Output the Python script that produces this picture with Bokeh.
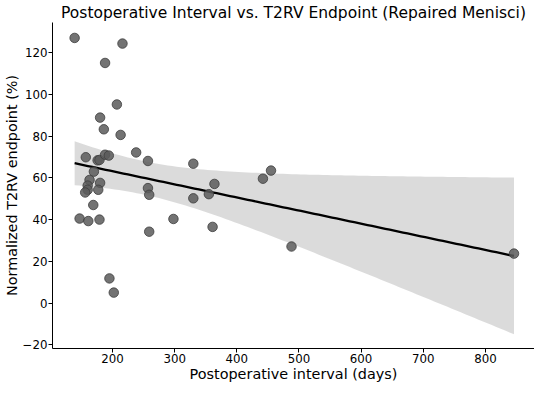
import numpy as np
from bokeh.plotting import figure
from bokeh.models import Range1d, FixedTicker, ColumnDataSource
from bokeh.embed import file_html
from bokeh.resources import INLINE

# Data
days = [139, 216, 188, 207, 180, 186, 213, 238, 257, 330,
        157, 176, 179, 188, 194, 170, 163, 180, 160, 160,
        156, 177, 169, 147, 161, 179, 195, 202, 257, 259,
        259, 298, 330, 355, 364, 361, 455, 442, 488, 846]
t2rv = [127.1, 124.4, 115.1, 95.2, 88.9, 83.3, 80.6, 72.2, 68.1, 66.8,
        69.9, 68.4, 68.6, 71.1, 70.7, 63.0, 59.0, 57.6, 56.3, 54.3,
        53.0, 54.3, 47.0, 40.5, 39.3, 40.0, 11.8, 5.0, 55.1, 51.9,
        34.2, 40.3, 50.2, 52.2, 57.1, 36.5, 63.5, 59.6, 27.1, 23.7]
x_ticks = [200, 300, 400, 500, 600, 700, 800]
y_ticks = [-20, 0, 20, 40, 60, 80, 100, 120]

title_text = "Postoperative Interval vs. T2RV Endpoint (Repaired Menisci)"
x_label = "Postoperative interval (days)"
y_label = "Normalized T2RV endpoint (%)"

# Linear fit with 95% confidence band
x = np.array(days, dtype=float)
y = np.array(t2rv, dtype=float)
n = len(x)
slope, intercept = np.polyfit(x, y, 1)
resid = y - (slope * x + intercept)
s = np.sqrt(np.sum(resid ** 2) / (n - 2))
sxx = np.sum((x - x.mean()) ** 2)
t_crit = 2.026
grid = np.linspace(x.min(), x.max(), 100)
pred = slope * grid + intercept
half = t_crit * s * np.sqrt(1.0 / n + (grid - x.mean()) ** 2 / sxx)
fit = ColumnDataSource(dict(x=grid, y=pred, lo=pred - half, hi=pred + half))
pts = ColumnDataSource(dict(x=days, y=t2rv))

FONT = "DejaVu Sans"
p = figure(width=534, height=384, output_backend="svg", toolbar_location=None,
           x_range=Range1d(103.4, 879), y_range=Range1d(-21.8, 134.5),
           min_border_left=50, min_border_right=0, min_border_top=0, min_border_bottom=0)
p.title.text = title_text
p.title.text_font = FONT
p.title.text_font_size = "15.5px"
p.title.text_font_style = "normal"
p.title.text_color = "black"
p.title.align = "center"
p.title.standoff = 2

p.varea(x="x", y1="lo", y2="hi", source=fit, fill_color="#000000", fill_alpha=0.14)
p.line(x="x", y="y", source=fit, line_color="black", line_width=2.3)
p.scatter(x="x", y="y", source=pts, size=9.5, fill_color="#5a5a5a", fill_alpha=0.85,
          line_color="#3c3c3c", line_width=0.8)

p.outline_line_color = None
p.xgrid.grid_line_color = None
p.ygrid.grid_line_color = None
for ax in (p.xaxis[0], p.yaxis[0]):
    ax.axis_line_color = "black"
    ax.axis_line_width = 1
    ax.major_tick_line_color = "black"
    ax.major_tick_in = 0
    ax.major_tick_out = 4
    ax.minor_tick_line_color = None
    ax.major_label_text_font = FONT
    ax.major_label_text_font_size = "11.8px"
    ax.major_label_text_color = "black"
    ax.axis_label_text_font = FONT
    ax.axis_label_text_font_size = "14.4px"
    ax.axis_label_text_font_style = "normal"
    ax.axis_label_text_color = "black"
    ax.major_label_standoff = 1
    ax.axis_label_standoff = 0

p.xaxis.ticker = FixedTicker(ticks=x_ticks)
p.yaxis.ticker = FixedTicker(ticks=y_ticks)
p.yaxis.major_label_overrides = {t: (str(t).replace("-", "\u2212")) for t in y_ticks}
p.xaxis.axis_label = x_label
p.yaxis.axis_label = y_label

open("out.html", "w").write(file_html(p, INLINE))
